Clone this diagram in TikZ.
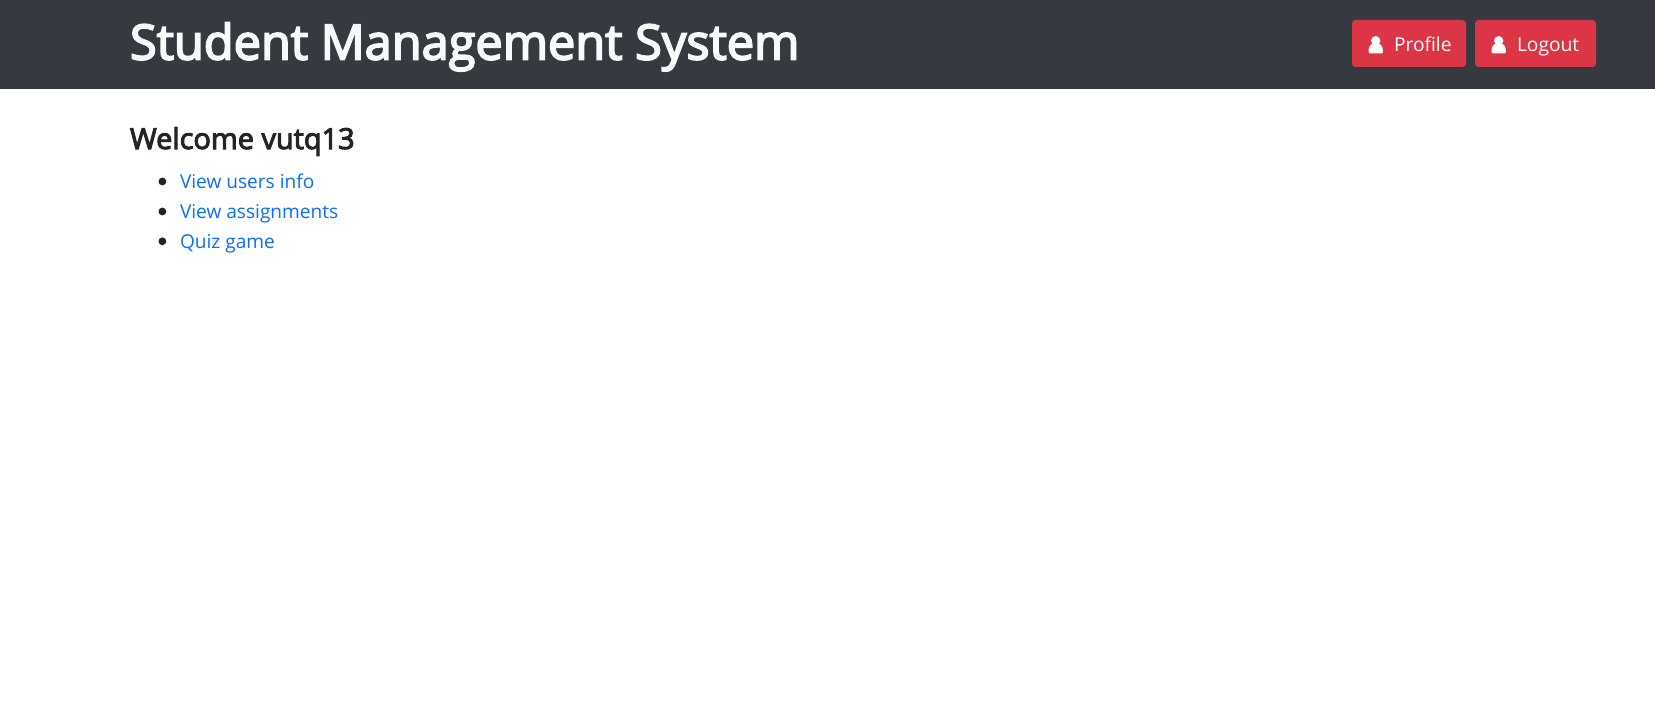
\documentclass[tikz,border=0pt]{standalone}
\usepackage{fontspec}
\setmainfont{Open Sans}
\definecolor{navbar}{HTML}{343A40}
\definecolor{danger}{HTML}{DC3545}
\definecolor{linkblue}{HTML}{0D6EFD}
\definecolor{bodytext}{HTML}{212529}
\definecolor{titletext}{HTML}{F8F9FA}
\newcommand{\heavy}[2]{\special{pdf:code 2 Tr #1 w}#2\special{pdf:code 0 Tr 1 w}}
\tikzset{
  txt/.style={anchor=base west,inner sep=0pt,outer sep=0pt},
  btn/.style={fill=danger,rounded corners=3.5pt,draw=none},
  btnlabel/.style={txt,text=white,font=\fontsize{19.2}{22}\selectfont},
  listlink/.style={txt,text=linkblue,font=\fontsize{19.1}{22}\selectfont},
  bullet/.style={circle,fill=bodytext,draw=none,minimum size=7.8pt,inner sep=0pt}
}
\newcommand{\usericon}[2]{%
  \fill[white] (#1,#2-9.3) circle (4.7);
  \fill[white] (#1-7.2,#2+1) .. controls (#1-7.2,#2-3.5) and (#1-5,#2-6) .. (#1-3,#2-6)
     .. controls (#1-1.5,#2-4.6) and (#1+1.5,#2-4.6) .. (#1+3,#2-6)
     .. controls (#1+5,#2-6) and (#1+7.2,#2-3.5) .. (#1+7.2,#2+1)
     -- (#1+7.2,#2+1.5) .. controls (#1+7.2,#2+3) and (#1+6.5,#2+3.4) .. (#1+5.5,#2+3.4)
     -- (#1-5.5,#2+3.4) .. controls (#1-6.5,#2+3.4) and (#1-7.2,#2+3) .. (#1-7.2,#2+1.5) -- cycle;
}
\begin{document}
\begin{tikzpicture}[x=1pt,y=-1pt]
\useasboundingbox (0,0) rectangle (1655,717);
\fill[white] (0,0) rectangle (1655,717);
\fill[navbar] (0,0) rectangle (1655,89);
\node[txt,text=titletext,font=\fontsize{48.7}{56}\selectfont] (title) at (130,59.5) {\heavy{1.8}{Student Management System}};
\draw[btn] (1352,20) rectangle (1466,67);
\draw[btn] (1475,20) rectangle (1596,67);
\usericon{1375.7}{50}
\usericon{1498.7}{50}
\node[btnlabel] (profile) at (1394,52) {Profile};
\node[btnlabel] (logout) at (1517,52) {Logout};
\node[txt,text=bodytext,font=\fontsize{28.9}{34}\selectfont] (welcome) at (130,149) {\heavy{1.0}{Welcome vutq13}};
\node[bullet] (b1) at (162.4,181.5) {};
\node[bullet] (b2) at (162.4,211.5) {};
\node[bullet] (b3) at (162.4,241.3) {};
\node[listlink] (l1) at (180,188) {View users info};
\node[listlink] (l2) at (180,218) {View assignments};
\node[listlink] (l3) at (180,248) {Quiz game};
\end{tikzpicture}
\end{document}
